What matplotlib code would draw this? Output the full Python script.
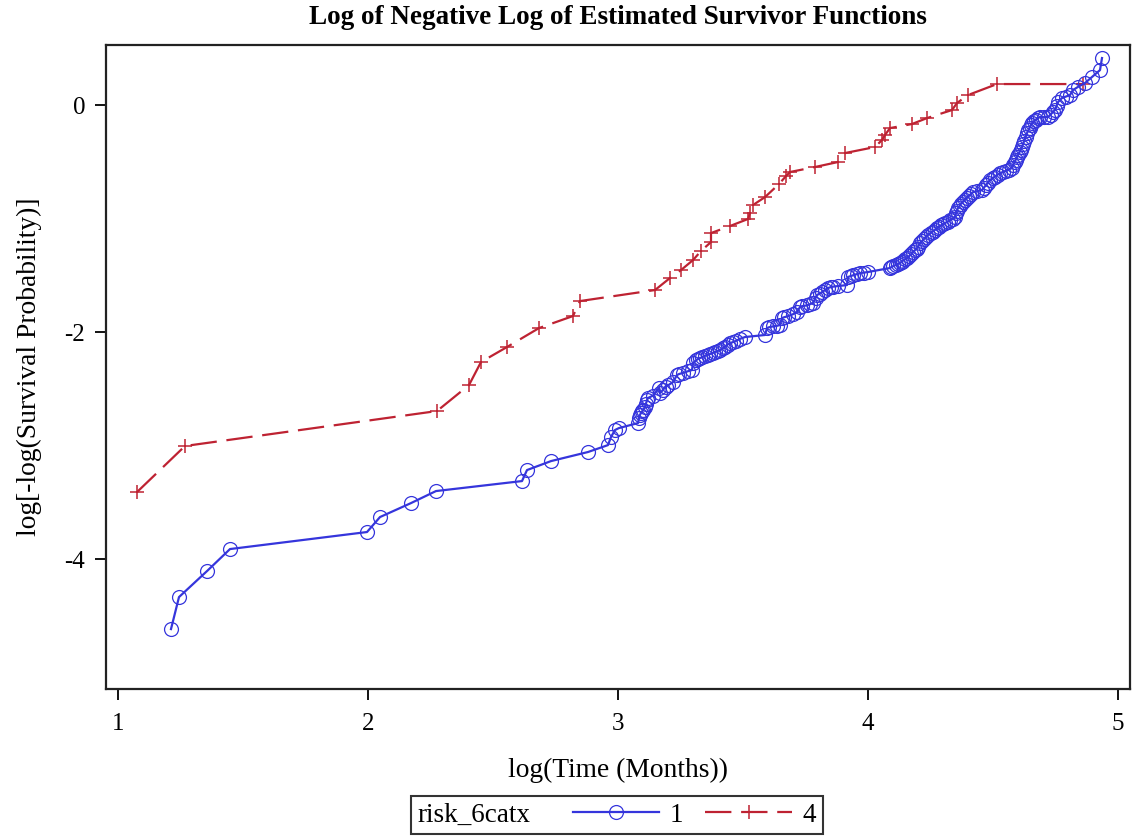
import matplotlib
matplotlib.use("Agg")
import matplotlib.pyplot as plt
import numpy as np
from matplotlib.offsetbox import HPacker

plt.rcParams['font.family'] = ['Liberation Serif', 'DejaVu Serif']
plt.rcParams['lines.scale_dashes'] = False

# ---- data (risk_6catx = 1) ----
blue_x = [1.212, 1.244, 1.356, 1.448, 1.996, 2.048, 2.172, 2.272, 2.616, 2.636,
          2.732, 2.880, 2.960, 2.972, 2.988, 3.004, 3.080, 3.084, 3.088, 3.100,
          3.108, 3.120, 3.140, 3.164, 3.168, 3.200, 3.220, 3.236, 3.260, 3.296,
          3.300, 3.312, 3.328, 3.348, 3.368, 3.388, 3.408, 3.428, 3.448, 3.470,
          3.508, 3.588, 3.596, 3.620, 3.648, 3.656, 3.680, 3.716, 3.728, 3.755,
          3.780, 3.796, 3.815, 3.840, 3.860, 3.916, 3.920, 3.940, 3.968, 4.000,
          4.088, 4.100, 4.128, 4.140, 4.156, 4.172, 4.188, 4.200, 4.208, 4.224,
          4.240, 4.258, 4.276, 4.292, 4.308, 4.328, 4.348, 4.352, 4.360, 4.372,
          4.388, 4.404, 4.420, 4.456, 4.472, 4.488, 4.508, 4.528, 4.550, 4.576,
          4.586, 4.596, 4.606, 4.616, 4.624, 4.636, 4.646, 4.656, 4.670, 4.688,
          4.720, 4.740, 4.748, 4.760, 4.776, 4.808, 4.820, 4.868, 4.896, 4.928,
          4.936,
          3.092, 3.096, 3.112, 3.116, 3.180, 3.190, 3.244, 3.280, 3.318, 3.336,
          3.358, 3.378, 3.398, 3.418, 3.438, 3.458, 3.488, 3.604, 3.636, 3.664,
          3.698, 3.736, 3.768, 3.790, 3.806, 3.828, 3.850, 3.880, 3.930, 3.955,
          3.985, 4.092, 4.110, 4.120, 4.134, 4.148, 4.164, 4.180, 4.194, 4.216,
          4.232, 4.250, 4.268, 4.284, 4.300, 4.318, 4.338, 4.356, 4.366, 4.380,
          4.396, 4.412, 4.436, 4.464, 4.480, 4.498, 4.518, 4.540, 4.562, 4.580,
          4.591, 4.601, 4.611, 4.620, 4.630, 4.641, 4.651, 4.662, 4.680, 4.704,
          4.730, 4.754, 4.792, 4.840]
blue_y = [-4.617, -4.335, -4.106, -3.912, -3.762, -3.630, -3.507, -3.401, -3.313, -3.216,
          -3.137, -3.057, -2.996, -2.925, -2.863, -2.846, -2.802, -2.760, -2.731, -2.690,
          -2.661, -2.581, -2.560, -2.493, -2.537, -2.470, -2.441, -2.379, -2.360, -2.335,
          -2.273, -2.250, -2.229, -2.210, -2.194, -2.175, -2.159, -2.130, -2.097, -2.080,
          -2.044, -2.026, -1.965, -1.950, -1.938, -1.877, -1.860, -1.824, -1.780, -1.765,
          -1.744, -1.674, -1.650, -1.612, -1.600, -1.586, -1.515, -1.500, -1.480, -1.471,
          -1.436, -1.420, -1.392, -1.370, -1.348, -1.315, -1.278, -1.250, -1.216, -1.180,
          -1.145, -1.115, -1.084, -1.060, -1.040, -1.015, -0.987, -0.950, -0.907, -0.870,
          -0.837, -0.800, -0.767, -0.749, -0.705, -0.661, -0.630, -0.599, -0.580, -0.555,
          -0.505, -0.458, -0.415, -0.370, -0.320, -0.247, -0.200, -0.159, -0.130, -0.106,
          -0.106, -0.060, -0.044, 0.026, 0.062, 0.088, 0.132, 0.194, 0.247, 0.308,
          0.414,
          -2.710, -2.700, -2.630, -2.600, -2.510, -2.480, -2.370, -2.345, -2.240, -2.222,
          -2.200, -2.185, -2.168, -2.145, -2.110, -2.090, -2.060, -1.958, -1.945, -1.870,
          -1.845, -1.772, -1.755, -1.700, -1.662, -1.630, -1.605, -1.595, -1.507, -1.490,
          -1.476, -1.430, -1.410, -1.400, -1.382, -1.360, -1.332, -1.296, -1.265, -1.198,
          -1.162, -1.130, -1.100, -1.072, -1.050, -1.028, -1.000, -0.930, -0.890, -0.853,
          -0.818, -0.783, -0.760, -0.727, -0.683, -0.645, -0.614, -0.590, -0.568, -0.530,
          -0.480, -0.437, -0.392, -0.345, -0.283, -0.224, -0.180, -0.145, -0.115, -0.106,
          -0.085, -0.010, 0.075, 0.160]

# ---- data (risk_6catx = 4) ----
red_x = [1.076, 1.268, 2.276, 2.404, 2.452, 2.556, 2.684, 2.820, 2.848, 3.148,
         3.208, 3.252, 3.300, 3.332, 3.372, 3.372, 3.448, 3.520, 3.528, 3.540,
         3.588, 3.644, 3.672, 3.688, 3.788, 3.880, 3.908, 4.028, 4.056, 4.068,
         4.088, 4.176, 4.236, 4.336, 4.356, 4.400, 4.516, 4.860]
red_y = [-3.410, -3.004, -2.696, -2.467, -2.264, -2.132, -1.965, -1.859, -1.727, -1.630,
         -1.524, -1.454, -1.366, -1.286, -1.207, -1.128, -1.066, -1.004, -0.952, -0.881,
         -0.811, -0.696, -0.626, -0.590, -0.546, -0.502, -0.423, -0.370, -0.308, -0.264,
         -0.203, -0.167, -0.115, -0.044, 0.018, 0.088, 0.185, 0.185]

x_ticks = [1, 2, 3, 4, 5]
y_ticks = [-4, -2, 0]
group_title = "risk_6catx"
group_labels = ["1", "4"]

BLUE = '#3535DC'
RED = '#BE2232'

order = np.argsort(blue_x, kind='stable')
bx = np.asarray(blue_x)[order]
by = np.asarray(blue_y)[order]

fig = plt.figure(figsize=(11.33, 8.39), dpi=100)
ax = fig.add_axes([106/1133, 1-689/839, (1130-106)/1133, (689-45)/839])

h1, = ax.plot(bx, by, color=BLUE, lw=1.6, marker='o', mfc='none',
              mec=BLUE, mew=0.9, ms=10, zorder=3)
h2, = ax.plot(red_x, red_y, color=RED, lw=1.6, dashes=(19, 7), marker='+',
              mec=RED, mew=1.1, ms=10, zorder=2)

ax.set_xlim(0.952, 5.048)
ax.set_ylim(-5.145, 0.529)
ax.set_xticks(x_ticks)
ax.set_xticklabels([str(t) for t in x_ticks])
ax.set_yticks(y_ticks)
ax.set_yticklabels([str(t) for t in y_ticks])
ax.tick_params(direction='out', length=8, width=1.3, labelsize=18, color='black')
ax.tick_params(axis='x', pad=9)
ax.tick_params(axis='y', pad=7)
for s in ax.spines.values():
    s.set_linewidth(1.6)
    s.set_color('#222222')

ax.set_xlabel("log(Time (Months))", fontsize=19.8, labelpad=17)
ax.set_ylabel("log[-log(Survival Probability)]", fontsize=19.8, labelpad=16)
fig.suptitle("Log of Negative Log of Estimated Survivor Functions",
             fontsize=19.5, fontweight='bold', x=618/1133, y=1-18/839, va='center')

leg = fig.legend([h1, h2], group_labels, title=group_title, ncol=2,
                 loc='center', bbox_to_anchor=(617/1133, 1-815/839),
                 fontsize=19.5, title_fontsize=19.5, frameon=True, fancybox=False,
                 edgecolor='black', handlelength=3.2, handletextpad=0.4,
                 columnspacing=0.8, borderpad=0.25)
leg.get_frame().set_linewidth(1.5)
lb = leg._legend_box
children = lb.get_children()
newbox = HPacker(pad=lb.pad, sep=30, align='center', children=children)
newbox.set_figure(fig)
newbox.axes = leg.axes
leg._legend_box = newbox
newbox.set_offset(leg._findoffset)

fig.savefig("out.png", dpi=100)
